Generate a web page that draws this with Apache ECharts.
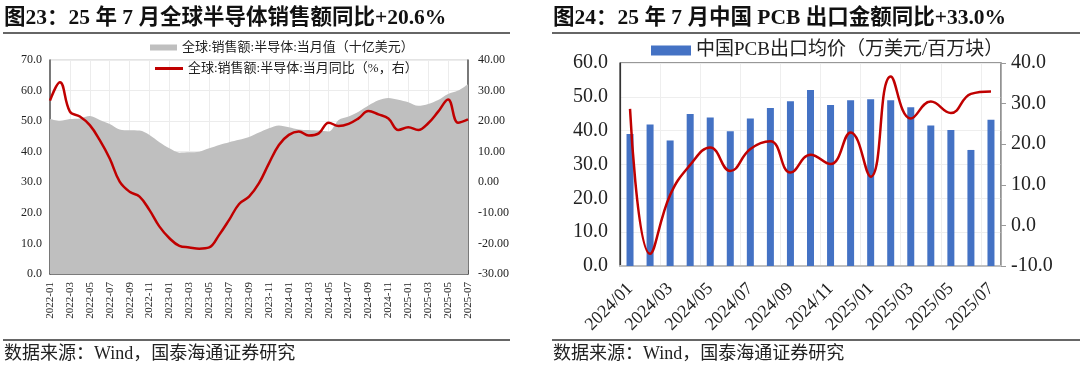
<!DOCTYPE html>
<html><head><meta charset="utf-8">
<script src="https://cdn.jsdelivr.net/npm/echarts@6/dist/echarts.min.js"></script>
<style>
html,body{margin:0;padding:0;background:#fff;width:1080px;height:368px;overflow:hidden}
#c1{position:absolute;left:0;top:0;width:540px;height:368px}
#c2{position:absolute;left:540px;top:0;width:540px;height:368px}
</style></head><body>
<div id="c1"></div><div id="c2"></div>
<script>
// ---------- Chart 23 data ----------
const months23 = ["2022-01","2022-02","2022-03","2022-04","2022-05","2022-06","2022-07","2022-08","2022-09","2022-10","2022-11","2022-12",
"2023-01","2023-02","2023-03","2023-04","2023-05","2023-06","2023-07","2023-08","2023-09","2023-10","2023-11","2023-12",
"2024-01","2024-02","2024-03","2024-04","2024-05","2024-06","2024-07","2024-08","2024-09","2024-10","2024-11","2024-12",
"2025-01","2025-02","2025-03","2025-04","2025-05","2025-06","2025-07"];
const salesValue = [50.7,50.1,50.7,50.9,51.7,50.4,49.1,47.3,47.0,46.9,45.5,43.1,
41.1,39.7,39.8,40.0,41.1,42.2,43.1,43.9,44.8,46.3,47.7,48.6,
48.0,47.3,47.1,46.9,46.6,50.4,51.5,53.1,55.1,56.8,57.6,57.0,
56.2,55.0,55.6,56.9,58.9,60.0,62.1];
const salesYoY = [26.7,32.7,23.1,21.5,18.7,13.8,7.8,0.2,-3.1,-4.7,-9.1,-14.5,
-18.3,-20.8,-21.3,-21.7,-21.3,-17.2,-12.3,-7.1,-4.7,-0.3,6.2,12.2,
15.5,16.6,15.3,16.0,19.5,18.4,19.1,20.9,23.3,22.2,20.9,17.1,
18.0,17.1,19.3,23.1,27.1,19.5,20.6];
const leftTicks23 = {min:0,max:70,interval:10};
const rightTicks23 = {min:-30,max:40,interval:10};

// ---------- Chart 24 data ----------
const months24 = ["2024/01","2024/02","2024/03","2024/04","2024/05","2024/06","2024/07","2024/08","2024/09","2024/10","2024/11","2024/12",
"2025/01","2025/02","2025/03","2025/04","2025/05","2025/06","2025/07"];
const pcbPrice = [39.0,41.8,37.1,44.9,43.9,39.8,43.6,46.7,48.7,52.0,47.6,49.0,49.3,49.0,46.9,41.5,40.2,34.3,43.2];
const pcbYoY = [28.7,-7.0,7.5,14.9,19.2,13.4,18.8,20.7,13.0,17.4,15.1,22.9,12.0,36.7,26.3,30.5,27.7,32.4,33.0];
const leftTicks24 = {min:0,max:60,interval:10};
const rightTicks24 = {min:-10,max:40,interval:10};

const SERIF = "'Liberation Serif','Noto Sans CJK SC',serif";
const TXT = '#222';

function frame(titleText, x0, x1){
  return [
    {type:'text',left:x0+1,top:8,style:{text:titleText,font:"bold 21.5px "+SERIF,fill:'#111'}},
    {type:'line',shape:{x1:x0,y1:33,x2:x1,y2:33},style:{stroke:'#333',lineWidth:1.5}},
    {type:'line',shape:{x1:x0,y1:340,x2:x1,y2:340},style:{stroke:'#333',lineWidth:1.5}},
    {type:'text',left:x0+1,top:345,style:{text:'数据来源：Wind，国泰海通证券研究',font:"18px "+SERIF,fill:'#222'}}
  ];
}

const c1 = echarts.init(document.getElementById('c1'),null,{renderer:'canvas'});
c1.setOption({
  animation:false,
  textStyle:{fontFamily:SERIF},
  graphic:frame('图23：25 年 7 月全球半导体销售额同比+20.6%',3,510),
  legend:[
    {data:['全球:销售额:半导体:当月值（十亿美元）'],left:150,top:41,padding:0,itemWidth:27,itemHeight:6,itemGap:4,
     icon:'rect',textStyle:{fontSize:13,color:TXT,fontFamily:SERIF}},
    {data:['全球:销售额:半导体:当月同比（%，右）'],left:155,top:62,padding:0,itemWidth:28,itemHeight:3,itemGap:4,
     icon:'rect',textStyle:{fontSize:13,color:TXT,fontFamily:SERIF}}
  ],
  grid:{left:50,right:72,top:60,bottom:94,show:true,borderColor:'#C8C8C8',borderWidth:1},
  xAxis:{type:'category',data:months23,boundaryGap:false,
    axisLine:{lineStyle:{color:'#555',width:1.5}},
    axisTick:{inside:true,length:4,interval:1,lineStyle:{color:'#555'}},
    axisLabel:{interval:1,rotate:90,fontSize:11,color:TXT,fontFamily:SERIF,margin:8},
    splitLine:{show:true,interval:1,lineStyle:{color:'#ECECEC'}}},
  yAxis:[
    {type:'value',min:leftTicks23.min,max:leftTicks23.max,interval:leftTicks23.interval,
     axisLine:{show:true,lineStyle:{color:'#555',width:1.5}},axisTick:{show:false},
     axisLabel:{fontSize:12,color:TXT,fontFamily:SERIF,formatter:v=>v.toFixed(1),margin:8},
     splitLine:{lineStyle:{color:'#ECECEC'}}},
    {type:'value',min:rightTicks23.min,max:rightTicks23.max,interval:rightTicks23.interval,position:'right',
     axisLine:{show:true,lineStyle:{color:'#555',width:1.5}},axisTick:{show:false},
     axisLabel:{fontSize:12,color:TXT,fontFamily:SERIF,formatter:v=>v.toFixed(2),margin:10},
     splitLine:{show:false}}
  ],
  series:[
    {name:'全球:销售额:半导体:当月值（十亿美元）',type:'line',data:salesValue,smooth:0.3,symbol:'none',
     lineStyle:{width:0,color:'#BFBFBF'},itemStyle:{color:'#BFBFBF'},areaStyle:{color:'#BFBFBF',opacity:1}},
    {name:'全球:销售额:半导体:当月同比（%，右）',type:'line',yAxisIndex:1,data:salesYoY,smooth:0.4,symbol:'none',
     lineStyle:{width:2.5,color:'#C00000'},itemStyle:{color:'#C00000'}}
  ]
});

const c2 = echarts.init(document.getElementById('c2'),null,{renderer:'canvas'});
c2.setOption({
  animation:false,
  textStyle:{fontFamily:SERIF},
  graphic:frame('图24：25 年 7 月中国 PCB 出口金额同比+33.0%',12,540),
  legend:{data:['中国PCB出口均价（万美元/百万块）'],left:111,top:41,padding:0,itemWidth:40,itemHeight:10,itemGap:6,
    icon:'rect',textStyle:{fontSize:19,color:TXT,fontFamily:SERIF}},
  grid:{left:80,right:79,top:63,bottom:102,show:true,borderColor:'#333',borderWidth:1.2},
  xAxis:{type:'category',data:months24,boundaryGap:true,
    axisLine:{lineStyle:{color:'#BFBFBF',width:2}},
    axisTick:{show:false},
    axisLabel:{interval:1,rotate:45,fontSize:18,color:TXT,fontFamily:SERIF,margin:20},
    splitLine:{show:true,interval:1,lineStyle:{color:'#EEEEEE'}}},
  yAxis:[
    {type:'value',min:leftTicks24.min,max:leftTicks24.max,interval:leftTicks24.interval,
     axisLine:{show:true,lineStyle:{color:'#333',width:1.2}},axisTick:{show:false},
     axisLabel:{fontSize:20,color:TXT,fontFamily:SERIF,formatter:v=>v.toFixed(1),margin:12},
     splitLine:{lineStyle:{color:'#EEEEEE'}}},
    {type:'value',min:rightTicks24.min,max:rightTicks24.max,interval:rightTicks24.interval,position:'right',
     axisLine:{show:true,lineStyle:{color:'#999',width:1.5}},
     axisTick:{show:true,length:5,lineStyle:{color:'#999'}},
     axisLabel:{fontSize:20,color:TXT,fontFamily:SERIF,formatter:v=>v.toFixed(1),margin:10},
     splitLine:{show:false}}
  ],
  series:[
    {name:'中国PCB出口均价（万美元/百万块）',type:'bar',data:pcbPrice,barWidth:7,
     itemStyle:{color:'#4472C4'}},
    {name:'PCB出口金额同比',type:'line',yAxisIndex:1,data:pcbYoY,smooth:0.45,symbol:'none',
     lineStyle:{width:2.5,color:'#C00000'},itemStyle:{color:'#C00000'}}
  ]
});
</script>
</body></html>
